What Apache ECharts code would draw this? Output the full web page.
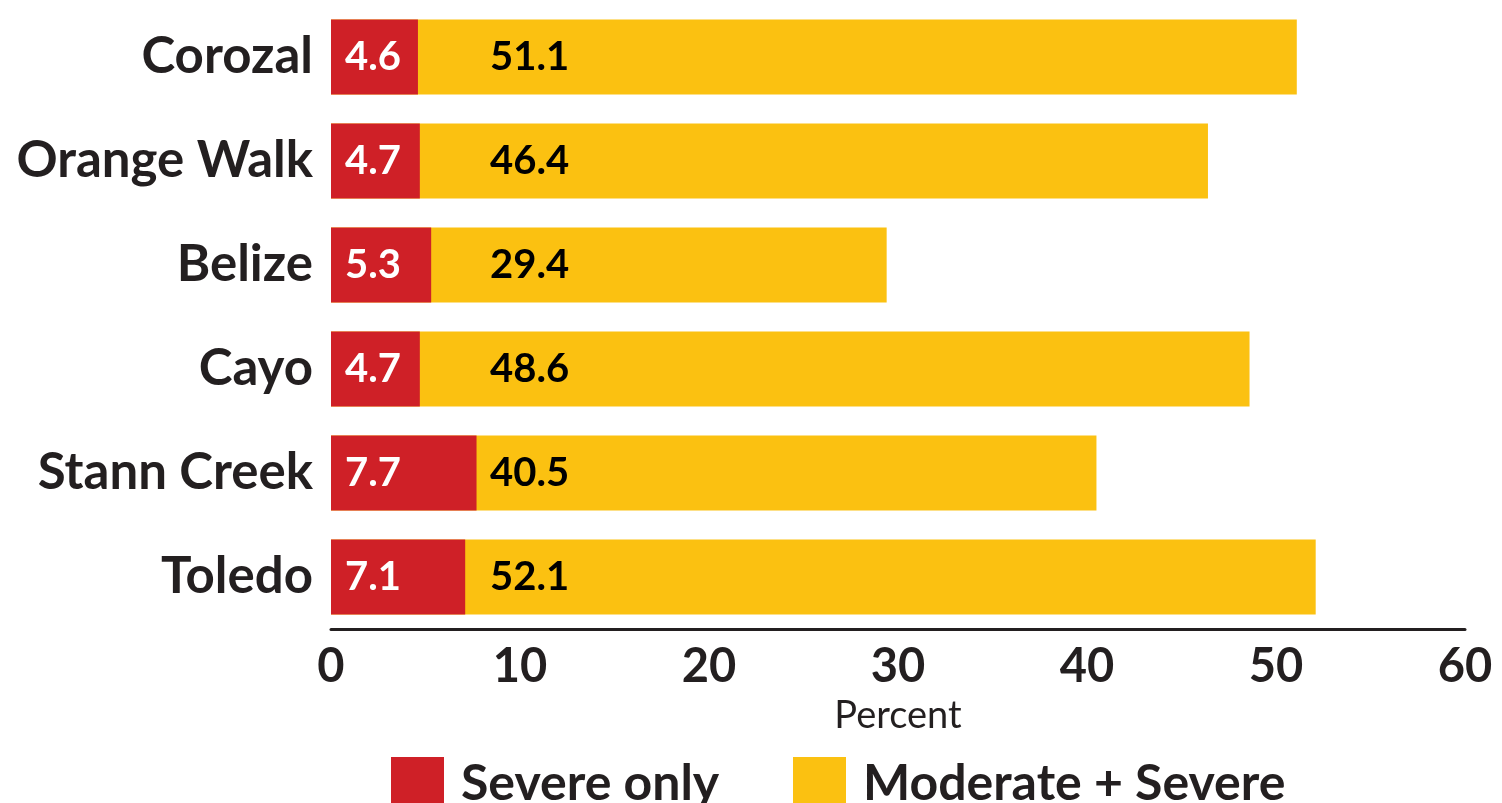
<!DOCTYPE html>
<html>
<head>
<meta charset="utf-8">
<script src="https://cdn.jsdelivr.net/npm/echarts@6/dist/echarts.min.js"></script>
<style>
html,body{margin:0;padding:0;background:#fff;}
#chart{width:1502px;height:803px;}
</style>
</head>
<body>
<div id="chart"></div>
<script>
const categories = ['Corozal', 'Orange Walk', 'Belize', 'Cayo', 'Stann Creek', 'Toledo'];
const severeOnly = [4.6, 4.7, 5.3, 4.7, 7.7, 7.1];
const moderateSevere = [51.1, 46.4, 29.4, 48.6, 40.5, 52.1];
const xTicks = [0, 10, 20, 30, 40, 50, 60];

const FONT = 'Lato, "Open Sans", sans-serif';
const DARK = '#231f20';
const RED = '#cf2027';
const YELLOW = '#fbc111';

const legendText = {fontFamily: FONT, fontSize: 50, fontWeight: 'bold', color: DARK, padding: [0, 0, 0, 12]};

const chart = echarts.init(document.getElementById('chart'), null, {renderer: 'canvas'});
chart.setOption({
  animation: false,
  backgroundColor: '#fff',
  grid: {left: 331, right: 37, top: 5, height: 624, containLabel: false},
  xAxis: {
    type: 'value', min: xTicks[0], max: xTicks[xTicks.length - 1], interval: 10,
    name: 'Percent', nameLocation: 'middle', nameGap: 68,
    nameTextStyle: {fontFamily: FONT, fontSize: 38, color: DARK, fontWeight: 'normal', verticalAlign: 'top'},
    axisLine: {show: true, lineStyle: {color: DARK, width: 3}},
    axisTick: {show: false},
    splitLine: {show: false},
    axisLabel: {fontFamily: FONT, fontSize: 47, fontWeight: 'bold', color: DARK, margin: 14}
  },
  yAxis: {
    type: 'category', data: categories, inverse: true,
    axisLine: {show: false}, axisTick: {show: false},
    axisLabel: {fontFamily: FONT, fontSize: 51, fontWeight: 'bold', color: DARK, margin: 18}
  },
  legend: [
    {
      top: 757, left: 391, padding: 0, itemWidth: 53, itemHeight: 53, icon: 'rect',
      textStyle: legendText, data: ['Severe only']
    },
    {
      top: 757, left: 793, padding: 0, itemWidth: 53, itemHeight: 53, icon: 'rect',
      textStyle: legendText, data: ['Moderate + Severe']
    }
  ],
  series: [
    {
      name: 'Moderate + Severe', type: 'bar', data: moderateSevere, barWidth: 75,
      itemStyle: {color: YELLOW},
      label: {show: true, position: [159, '50%'], align: 'left', verticalAlign: 'middle',
        fontFamily: FONT, fontSize: 40, fontWeight: 'bold', color: '#000'},
      z: 1
    },
    {
      name: 'Severe only', type: 'bar', data: severeOnly, barWidth: 75, barGap: '-100%',
      itemStyle: {color: RED},
      label: {show: true, position: [14, '50%'], align: 'left', verticalAlign: 'middle',
        fontFamily: FONT, fontSize: 40, fontWeight: 'bold', color: '#fff'},
      z: 2
    }
  ]
});
</script>
</body>
</html>
